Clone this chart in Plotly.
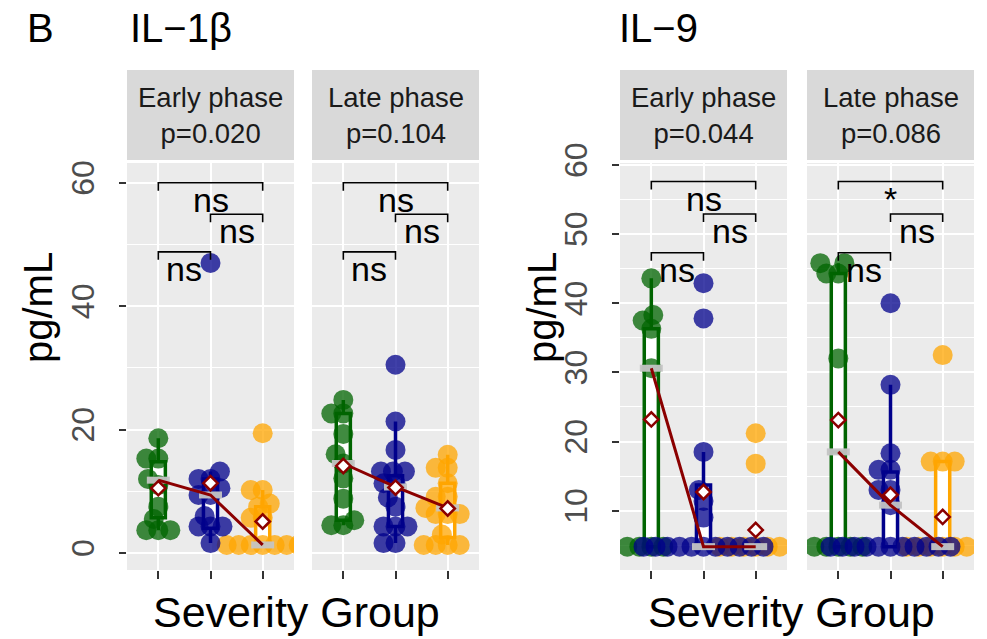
import plotly.graph_objects as go

FONT = "Liberation Sans, Arial, sans-serif"
W, H = 987, 639

# ---------------- values (pg/mL) ----------------
CATS = [1, 2, 3]
LINE_COLORS = ["darkgreen", "darkblue", "orange"]
POINT_COLORS = ["rgba(0,100,0,0.75)", "rgba(0,0,139,0.75)", "rgba(255,165,0,0.75)"]

# IL-1beta, early phase
il1b_early_g1 = [18.6, 15.3, 15.3, 12.0, 11.0, 7.5, 5.5, 3.7, 3.7, 3.7]
il1b_early_g2 = [47.0, 13.2, 12.0, 12.0, 10.5, 9.4, 9.4, 6.0, 4.3, 4.3, 4.3, 1.6]
il1b_early_g3 = [19.4, 10.2, 10.2, 8.0, 7.5, 5.7, 5.7, 1.3, 1.3, 1.3, 1.3, 1.3, 1.3, 1.3]
il1b_early_q1 = [5.7, 4.0, 1.3]
il1b_early_med = [11.8, 9.4, 1.3]
il1b_early_q3 = [14.8, 12.0, 7.5]
il1b_early_lo = [3.7, 1.6, 1.3]
il1b_early_hi = [18.6, 13.2, 10.2]
il1b_early_mean = [10.5, 11.3, 5.1]

# IL-1beta, late phase
il1b_late_g1 = [24.8, 22.6, 22.6, 19.3, 16.0, 14.5, 12.1, 8.8, 5.3, 4.5, 4.5]
il1b_late_g2 = [30.5, 21.3, 16.7, 13.2, 13.2, 13.2, 11.3, 11.3, 9.0, 7.5, 4.3, 4.3, 4.3, 1.6, 1.6]
il1b_late_g3 = [15.9, 13.8, 13.8, 11.3, 9.1, 9.1, 7.3, 6.3, 6.3, 6.3, 3.0, 1.3, 1.3, 1.3, 1.3]
il1b_late_q1 = [5.3, 4.3, 2.5]
il1b_late_med = [14.5, 10.7, 7.3]
il1b_late_q3 = [22.6, 12.5, 11.3]
il1b_late_lo = [4.5, 1.6, 1.3]
il1b_late_hi = [24.8, 21.3, 15.9]
il1b_late_mean = [14.1, 10.6, 7.2]

# IL-9, early phase
il9_early_g1 = [43.6, 38.3, 37.5, 36.3, 30.6, 4.8, 4.8, 4.8, 4.8]
il9_early_g2 = [42.9, 37.8, 18.5, 13.0, 11.4, 9.0] + [4.8] * 11
il9_early_g3 = [21.2, 16.8] + [4.8] * 6
il9_early_q1 = [4.8, 4.8, 4.8]
il9_early_med = [30.6, 4.8, 4.8]
il9_early_q3 = [36.3, 13.7, 4.8]
il9_early_lo = [4.8, 4.8, 4.8]
il9_early_hi = [43.6, 18.5, 4.8]
il9_early_mean = [23.2, 12.7, 7.2]

# IL-9, late phase
il9_late_g1 = [45.8, 45.8, 44.3, 44.3, 32.0] + [4.8] * 5
il9_late_g2 = [40.0, 28.2, 18.3, 15.9, 15.9, 13.0, 13.0, 10.8] + [4.8] * 11
il9_late_g3 = [32.5, 17.1, 17.1, 17.1] + [4.8] * 6
il9_late_q1 = [4.8, 4.8, 4.8]
il9_late_med = [18.5, 10.8, 4.8]
il9_late_q3 = [44.3, 15.6, 17.1]
il9_late_lo = [4.8, 4.8, 4.8]
il9_late_hi = [45.8, 28.2, 17.1]
il9_late_mean = [23.1, 12.3, 9.1]

# pairwise comparison brackets: (from, to) and labels per panel
BRACKET_PAIRS = [(1, 3), (2, 3), (1, 2)]
il1b_bracket_y = [60.0, 54.9, 48.8]
il9_bracket_y = [57.6, 52.9, 47.3]
il1b_early_sig = ["ns", "ns", "ns"]
il1b_late_sig = ["ns", "ns", "ns"]
il9_early_sig = ["ns", "ns", "ns"]
il9_late_sig = ["*", "ns", "ns"]

# facet strip labels
il1b_strips = [("Early phase", "p=0.020"), ("Late phase", "p=0.104")]
il9_strips = [("Early phase", "p=0.044"), ("Late phase", "p=0.086")]

# y scales
il1b_range = [-2.76, 63.2]
il1b_ticks = [0, 20, 40, 60]
il9_range = [1.42, 60.28]
il9_ticks = [10, 20, 30, 40, 50, 60]

# ---------------- geometry ----------------
PANEL_X = [(127, 294), (312, 479), (620, 787), (807, 974)]
PANEL_TOP, PANEL_BOTTOM = 163, 570
STRIP_TOP, STRIP_BOTTOM = 70, 160
X_RANGE = [0.4, 3.6]


def swarm_offsets(values, py_per_unit, px_per_unit, spacing=12.0):
    """Beeswarm-style horizontal offsets (in category units)."""
    order = sorted(range(len(values)), key=lambda i: values[i])
    placed = []
    offsets = [0.0] * len(values)
    for i in order:
        y = values[i] * py_per_unit
        cands = [0.0]
        for px, py in placed:
            dy = abs(py - y)
            if dy < spacing:
                dx = (spacing ** 2 - dy ** 2) ** 0.5
                cands.extend([px - dx, px + dx])
        cands.sort(key=lambda c: (round(abs(c), 6), c))
        chosen = cands[-1]
        for c in cands:
            if all((c - px) ** 2 + (y - py) ** 2 >= spacing ** 2 - 1e-6 for px, py in placed):
                chosen = c
                break
        placed.append((chosen, y))
        offsets[i] = chosen / px_per_unit
    return offsets


panels = [
    dict(groups=[il1b_early_g1, il1b_early_g2, il1b_early_g3], q1=il1b_early_q1, med=il1b_early_med,
         q3=il1b_early_q3, lo=il1b_early_lo, hi=il1b_early_hi, mean=il1b_early_mean,
         br_y=il1b_bracket_y, sig=il1b_early_sig, yr=il1b_range, ticks=il1b_ticks, minor=10,
         strip=il1b_strips[0], left=True),
    dict(groups=[il1b_late_g1, il1b_late_g2, il1b_late_g3], q1=il1b_late_q1, med=il1b_late_med,
         q3=il1b_late_q3, lo=il1b_late_lo, hi=il1b_late_hi, mean=il1b_late_mean,
         br_y=il1b_bracket_y, sig=il1b_late_sig, yr=il1b_range, ticks=il1b_ticks, minor=10,
         strip=il1b_strips[1], left=False),
    dict(groups=[il9_early_g1, il9_early_g2, il9_early_g3], q1=il9_early_q1, med=il9_early_med,
         q3=il9_early_q3, lo=il9_early_lo, hi=il9_early_hi, mean=il9_early_mean,
         br_y=il9_bracket_y, sig=il9_early_sig, yr=il9_range, ticks=il9_ticks, minor=5,
         strip=il9_strips[0], left=True),
    dict(groups=[il9_late_g1, il9_late_g2, il9_late_g3], q1=il9_late_q1, med=il9_late_med,
         q3=il9_late_q3, lo=il9_late_lo, hi=il9_late_hi, mean=il9_late_mean,
         br_y=il9_bracket_y, sig=il9_late_sig, yr=il9_range, ticks=il9_ticks, minor=5,
         strip=il9_strips[1], left=False),
]

fig = go.Figure()
annotations = []
shapes = []

for k, p in enumerate(panels, start=1):
    xa = "x" if k == 1 else f"x{k}"
    ya = "y" if k == 1 else f"y{k}"
    x0, x1 = PANEL_X[k - 1]
    px_unit = (x1 - x0) / (X_RANGE[1] - X_RANGE[0])
    py_unit = (PANEL_BOTTOM - PANEL_TOP) / (p["yr"][1] - p["yr"][0])

    # boxes
    for g in range(3):
        fig.add_trace(go.Box(
            x=[CATS[g]], q1=[p["q1"][g]], median=[p["med"][g]], q3=[p["q3"][g]],
            lowerfence=[p["lo"][g]], upperfence=[p["hi"][g]],
            width=0.27, whiskerwidth=0, fillcolor="white", boxpoints=False,
            line=dict(color=LINE_COLORS[g], width=3.5),
            xaxis=xa, yaxis=ya, hoverinfo="skip"))

    # points (swarm layout)
    for g in (0, 2, 1):
        vals = p["groups"][g]
        offs = swarm_offsets(vals, py_unit, px_unit)
        fig.add_trace(go.Scatter(
            x=[CATS[g] + o for o in offs], y=vals, mode="markers",
            marker=dict(size=20, color=POINT_COLORS[g], line=dict(width=0)),
            xaxis=xa, yaxis=ya, hoverinfo="skip"))

    # median bars
    bx, by = [], []
    for g in range(3):
        bx += [CATS[g] - 0.22, CATS[g] + 0.22, None]
        by += [p["med"][g], p["med"][g], None]
    fig.add_trace(go.Scatter(x=bx, y=by, mode="lines",
                             line=dict(color="rgba(196,196,196,0.95)", width=7),
                             xaxis=xa, yaxis=ya, hoverinfo="skip"))

    # median trend line
    fig.add_trace(go.Scatter(x=CATS, y=p["med"], mode="lines",
                             line=dict(color="#8B0000", width=3),
                             xaxis=xa, yaxis=ya, hoverinfo="skip"))
    # means
    fig.add_trace(go.Scatter(x=CATS, y=p["mean"], mode="markers",
                             marker=dict(symbol="diamond", size=11, color="white",
                                         line=dict(color="#8B0000", width=2.5)),
                             xaxis=xa, yaxis=ya, hoverinfo="skip"))

    # brackets
    tip = 8 / py_unit
    lx, ly = [], []
    for (a, b), h, lab in zip(BRACKET_PAIRS, p["br_y"], p["sig"]):
        lx += [a, a, b, b, None]
        ly += [h - tip, h, h, h - tip, None]
        annotations.append(dict(x=(a + b) / 2, y=h, xref=xa, yref=ya, text=lab,
                                showarrow=False, yanchor="top", xanchor="center",
                                yshift=4, font=dict(size=34, color="black", family=FONT)))
    fig.add_trace(go.Scatter(x=lx, y=ly, mode="lines", line=dict(color="black", width=1.6),
                             xaxis=xa, yaxis=ya, hoverinfo="skip", cliponaxis=False))

    # axes
    fig.update_layout(**{
        ("xaxis" if k == 1 else f"xaxis{k}"): dict(
            domain=[x0 / W, x1 / W], range=X_RANGE, anchor=ya,
            tickvals=CATS, showticklabels=False, ticks="outside", ticklen=8, tickwidth=2,
            tickcolor="#333333", showgrid=True, gridcolor="white", gridwidth=2,
            zeroline=False, showline=False, fixedrange=True, automargin=False),
        ("yaxis" if k == 1 else f"yaxis{k}"): dict(
            domain=[1 - PANEL_BOTTOM / H, 1 - PANEL_TOP / H], range=p["yr"], anchor=xa,
            tickvals=p["ticks"], showticklabels=p["left"], ticks="outside" if p["left"] else "",
            ticklen=7, tickwidth=2, tickcolor="#333333", tickangle=-90,
            tickfont=dict(size=32, color="#4D4D4D", family=FONT), ticklabelstandoff=12,
            showgrid=True, gridcolor="white", gridwidth=2, zeroline=False, showline=False,
            minor=dict(dtick=p["minor"], tick0=0, showgrid=True, gridcolor="white", gridwidth=1,
                       ticks=""),
            fixedrange=True, automargin=False),
    })

    # facet strip
    shapes.append(dict(type="rect", xref="paper", yref="paper", x0=x0 / W, x1=x1 / W,
                       y0=1 - STRIP_BOTTOM / H, y1=1 - STRIP_TOP / H,
                       fillcolor="#D9D9D9", line=dict(width=0), layer="below"))
    cx = (x0 + x1) / 2 / W
    annotations.append(dict(x=cx, y=1 - 115.5 / H, xref="paper", yref="paper",
                            text=p["strip"][0] + "<br>" + p["strip"][1],
                            showarrow=False, xanchor="center", yanchor="middle", align="center",
                            font=dict(size=27.5, color="#1A1A1A", family=FONT)))

# titles and axis titles
for txt, xpx in (("B", 25), ("IL−1β", 128), ("IL−9", 617)):
    annotations.append(dict(x=xpx / W, y=1 - 28 / H, xref="paper", yref="paper", text=txt,
                            showarrow=False, xanchor="left", yanchor="middle",
                            font=dict(size=40, color="black", family=FONT)))
for xpx in (38, 542):
    annotations.append(dict(x=xpx / W, y=1 - 308 / H, xref="paper", yref="paper", text="pg/mL",
                            showarrow=False, xanchor="center", yanchor="middle", textangle=-90,
                            font=dict(size=40, color="black", family=FONT)))
for xpx in (296, 791):
    annotations.append(dict(x=xpx / W, y=1 - 612 / H, xref="paper", yref="paper",
                            text="Severity Group", showarrow=False, xanchor="center",
                            yanchor="middle", font=dict(size=43, color="black", family=FONT)))

fig.update_layout(width=W, height=H, margin=dict(l=0, r=0, t=0, b=0, pad=0, autoexpand=False),
                  autosize=False, paper_bgcolor="white", plot_bgcolor="#EBEBEB", showlegend=False,
                  font=dict(family=FONT), annotations=annotations, shapes=shapes)

fig.write_html("out.html")
